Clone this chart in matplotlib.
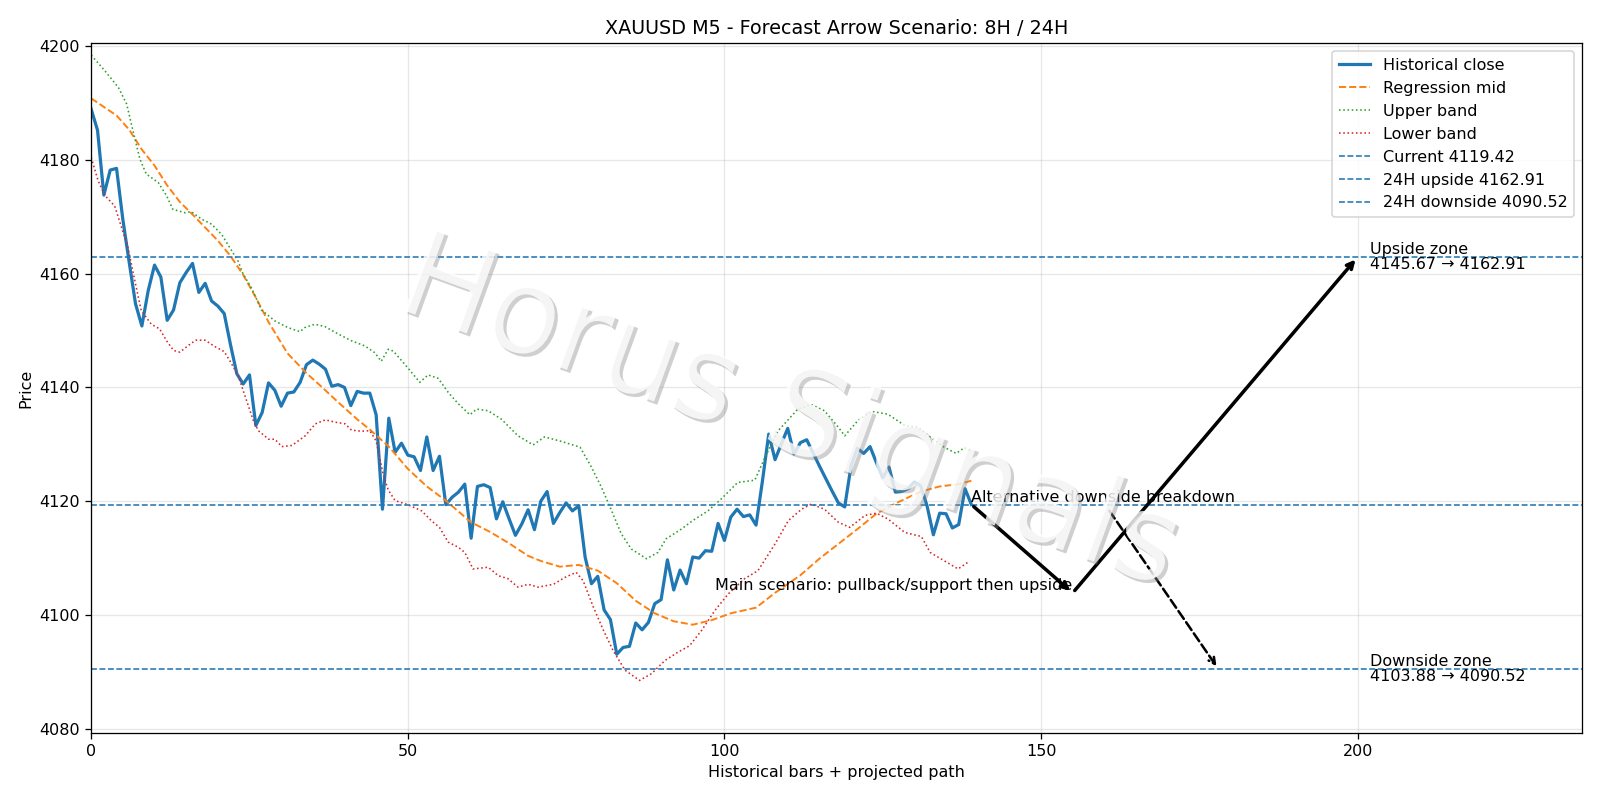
import matplotlib
matplotlib.use("Agg")
import matplotlib.pyplot as plt
import matplotlib.patheffects as pe
import numpy as np

# historical closes, one per bar (0..139)
close = [4188.9, 4185.2, 4173.8, 4178.2, 4178.5, 4169.5, 4162.0, 4154.7, 4150.8, 4157.0,
         4161.5, 4159.4, 4151.8, 4153.6, 4158.4, 4160.2, 4161.8, 4156.7, 4158.3, 4155.2,
         4154.3, 4153.0, 4147.5, 4142.4, 4140.6, 4142.2, 4133.3, 4135.6, 4140.8, 4139.5,
         4136.7, 4139.0, 4139.2, 4140.9, 4144.0, 4144.8, 4144.1, 4143.2, 4140.2, 4140.5,
         4140.0, 4136.8, 4139.3, 4139.0, 4139.0, 4135.2, 4118.6, 4134.6, 4128.6, 4130.2,
         4128.1, 4127.8, 4125.4, 4131.3, 4125.4, 4127.9, 4119.4, 4120.7, 4121.6, 4123.0,
         4113.5, 4122.6, 4122.9, 4122.4, 4116.9, 4119.9, 4116.9, 4114.0, 4116.0, 4118.5,
         4115.0, 4120.0, 4121.7, 4116.1, 4118.0, 4119.7, 4118.3, 4119.2, 4110.2, 4105.5,
         4106.8, 4100.9, 4099.2, 4093.1, 4094.3, 4094.5, 4098.6, 4097.4, 4098.7, 4102.0,
         4102.7, 4109.7, 4104.4, 4107.9, 4105.5, 4110.2, 4110.0, 4111.3, 4111.2, 4116.1,
         4113.1, 4117.2, 4118.6, 4117.3, 4117.6, 4115.8, 4123.5, 4131.8, 4127.3, 4130.1,
         4132.8, 4128.3, 4130.3, 4130.8, 4128.5, 4126.2, 4124.0, 4121.8, 4119.7, 4119.0,
         4126.2, 4129.3, 4128.4, 4129.6, 4126.8, 4124.1, 4126.0, 4121.6, 4121.7, 4122.2,
         4123.4, 4122.7, 4119.2, 4114.1, 4117.9, 4117.8, 4115.3, 4115.9, 4122.2, 4119.42]

# regression mid, read at these bars
mid_x = [0, 4, 6, 8, 10, 12, 14, 16, 18, 20, 22, 24, 26, 28, 31, 34, 36, 39, 42, 44,
         47, 50, 53, 56, 60, 63, 66, 69, 71, 74, 77, 80, 83, 86, 89, 92, 95, 98, 101, 105,
         108, 112, 115, 118, 121, 124, 127, 131, 134, 137, 139]
mid_y = [4190.8, 4187.8, 4185.3, 4181.8, 4179.0, 4175.5, 4172.6, 4170.4, 4168.1, 4165.8,
         4163.1, 4159.8, 4155.8, 4151.5, 4146.0, 4142.5, 4140.5, 4137.4, 4134.4, 4132.6,
         4129.6, 4125.7, 4122.6, 4120.1, 4116.3, 4114.6, 4112.6, 4110.4, 4109.5, 4108.5,
         4108.8, 4107.8, 4105.6, 4102.5, 4100.3, 4098.9, 4098.3, 4099.1, 4100.3, 4101.3,
         4103.9, 4107.0, 4109.9, 4112.5, 4115.1, 4117.8, 4119.6, 4121.7, 4122.6, 4123.0, 4123.6]

upper_x = [0, 2.2, 4.3, 5.6, 6.6, 7.7, 8.7, 10.6, 11.9, 12.9, 14.8, 15.8, 17.4, 19, 20.6,
           22.2, 23.2, 24, 25.3, 26.9, 29, 31.1, 33, 33.7, 35.3, 36.9, 39, 41.1, 43.2, 44.8,
           45.8, 46.9, 47.7, 49.5, 51.9, 53.2, 54.8, 56.4, 58, 59.8, 60.9, 62.7, 64.8, 67.4,
           69.8, 71.6, 74.3, 77.2, 79, 80.6, 82.2, 83.7, 85.3, 87.7, 89.5, 90.8, 93.2, 95,
           97.4, 99.5, 102.1, 104.8, 106.4, 108.5, 111.6, 113.7, 115.8, 118, 119, 121.1,
           123.2, 125.8, 128.5, 130.6, 132.6, 134.7, 136.6, 137.9, 139]
upper_y = [4198.4, 4195.6, 4192.7, 4189.8, 4185.1, 4180.1, 4177.5, 4176.0, 4173.7, 4171.3,
           4170.7, 4170.9, 4169.6, 4168.7, 4166.9, 4164.0, 4162.2, 4159.9, 4157.5, 4153.6,
           4151.7, 4150.5, 4149.8, 4150.5, 4151.1, 4150.7, 4149.4, 4148.2, 4147.3, 4146.1,
           4144.6, 4146.7, 4146.4, 4144.1, 4140.9, 4142.2, 4141.6, 4139.1, 4137.1, 4135.2,
           4136.2, 4135.9, 4134.4, 4131.5, 4129.9, 4131.3, 4130.5, 4129.5, 4126.0, 4122.4,
           4118.3, 4114.3, 4111.6, 4109.9, 4111.0, 4113.4, 4115.1, 4116.6, 4118.3, 4120.4,
           4123.3, 4123.7, 4127.7, 4132.4, 4136.2, 4137.0, 4135.9, 4133.0, 4131.5, 4134.2,
           4135.8, 4135.3, 4133.3, 4133.0, 4131.2, 4129.5, 4128.4, 4129.4, 4128.9]

lower_x = [0, 1.1, 2.2, 3.7, 4.8, 5.8, 6.9, 7.9, 9.5, 10.8, 11.9, 13, 14, 15.5, 16.5, 18,
           19.5, 21, 22, 23.2, 25.6, 26.4, 28, 29, 30.1, 31.7, 33.8, 35.4, 37, 38.5, 40.1,
           41.1, 42.7, 44, 45, 46.1, 46.9, 48, 50, 52.2, 53.7, 55, 56.4, 58, 59, 60.3, 62.7,
           64.3, 65.8, 67.4, 69, 70.6, 73, 74.8, 76.6, 77.7, 79.3, 80.9, 82.4, 84.3, 86.6,
           88.5, 90.6, 92.7, 94.5, 96.4, 98.5, 100.6, 103.2, 105.3, 108, 110.1, 112.2, 113.7,
           115.8, 118, 119.8, 122.2, 124, 125.8, 128.5, 131.1, 132.5, 133.7, 136.9, 138.5]
lower_y = [4180.4, 4176.3, 4173.7, 4171.9, 4168.1, 4164.6, 4158.7, 4153.5, 4151.1, 4150.3,
           4148.2, 4146.5, 4146.2, 4147.5, 4148.3, 4148.3, 4147.2, 4146.3, 4144.5, 4142.1,
           4134.2, 4132.4, 4130.9, 4130.9, 4129.6, 4129.8, 4131.5, 4133.6, 4134.3, 4133.9,
           4133.6, 4132.5, 4132.3, 4132.4, 4130.6, 4124.8, 4122.0, 4120.1, 4119.4, 4118.3,
           4116.6, 4115.4, 4112.8, 4111.9, 4111.0, 4108.1, 4108.4, 4106.9, 4106.4, 4104.9,
           4105.4, 4104.9, 4105.4, 4106.6, 4107.5, 4106.0, 4101.4, 4097.3, 4093.8, 4090.3,
           4088.5, 4089.7, 4092.0, 4093.5, 4094.6, 4097.3, 4100.8, 4103.7, 4106.4, 4107.8,
           4112.5, 4116.6, 4118.6, 4119.5, 4118.6, 4116.3, 4115.4, 4117.5, 4117.9, 4116.9,
           4114.5, 4113.8, 4111.0, 4110.2, 4108.1, 4109.3]

current = 4119.42
up_24h = 4162.91
down_24h = 4090.52
up_zone = (4145.67, 4162.91)
down_zone = (4103.88, 4090.52)

# projected paths
main_x = [139, 155, 200]
main_y = [current, 4103.88, up_24h]
alt_x = [160.5, 178]
alt_y = [4118.8, down_24h]
zone_label_x = 202

dpi = 115
fig, ax = plt.subplots(figsize=(1600 / dpi, 800 / dpi), dpi=dpi)
fig.subplots_adjust(left=0.057, right=0.989, top=0.946, bottom=0.084)

x = np.arange(len(close))
ax.plot(x, close, color="#1f77b4", lw=2, label="Historical close")
ax.plot(mid_x, mid_y, color="#ff7f0e", ls="--", lw=1.2, label="Regression mid")
ax.plot(upper_x, upper_y, color="#2ca02c", ls=":", lw=1, label="Upper band")
ax.plot(lower_x, lower_y, color="#d62728", ls=":", lw=1, label="Lower band")
ax.axhline(current, color="#1f77b4", ls="--", lw=1, label=f"Current {current:.2f}")
ax.axhline(up_24h, color="#1f77b4", ls="--", lw=1, label=f"24H upside {up_24h:.2f}")
ax.axhline(down_24h, color="#1f77b4", ls="--", lw=1, label=f"24H downside {down_24h:.2f}")

# main scenario arrows
for i in range(len(main_x) - 1):
    ax.annotate("", xy=(main_x[i + 1], main_y[i + 1]), xytext=(main_x[i], main_y[i]),
                arrowprops=dict(arrowstyle="->", lw=2.2, color="black"))
ax.annotate("", xy=(alt_x[1], alt_y[1]), xytext=(alt_x[0], alt_y[0]),
            arrowprops=dict(arrowstyle="->", lw=1.6, color="black", linestyle="--"))

ax.text(main_x[1], main_y[1], "Main scenario: pullback/support then upside",
        ha="right", va="bottom", fontsize=10)
ax.text(main_x[0], current, "Alternative downside breakdown",
        ha="left", va="bottom", fontsize=10)
ax.text(zone_label_x, up_24h, f"Upside zone\n{up_zone[0]:.2f} → {up_zone[1]:.2f}",
        ha="left", va="center", fontsize=10, linespacing=1.0)
ax.text(zone_label_x, down_24h, f"Downside zone\n{down_zone[0]:.2f} → {down_zone[1]:.2f}",
        ha="left", va="center", fontsize=10, linespacing=1.0)

# watermark
ax.text(0.468, 0.46, "Horus Signals", transform=ax.transAxes, fontsize=75,
        rotation=-20, ha="center", va="center", color="white", alpha=0.8, zorder=10,
        path_effects=[pe.withSimplePatchShadow(offset=(2, -2), shadow_rgbFace="#888888", alpha=0.4)])

ax.set_xlim(0, 235.5)
ax.set_ylim(4079.3, 4200.5)
ax.set_yticks(np.arange(4080, 4201, 20))
ax.grid(True, alpha=0.3)
ax.set_title("XAUUSD M5 - Forecast Arrow Scenario: 8H / 24H")
ax.set_xlabel("Historical bars + projected path")
ax.set_ylabel("Price")
ax.legend(loc="upper right")

fig.savefig("out.png", dpi=dpi)
